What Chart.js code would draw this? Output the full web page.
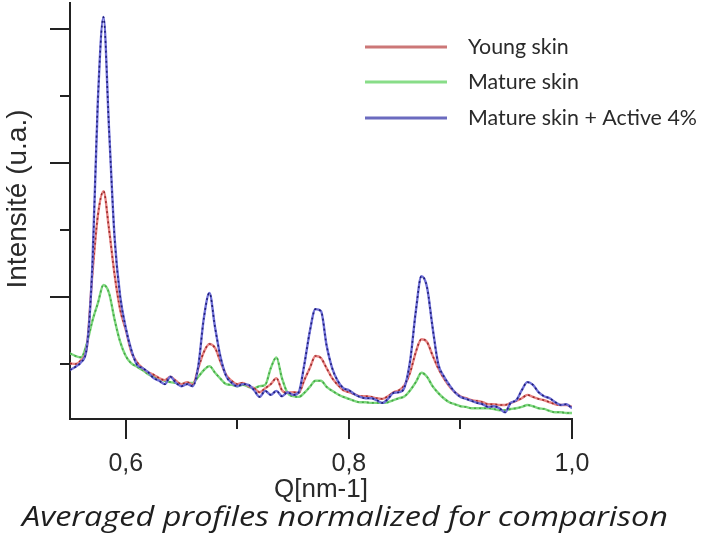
<!DOCTYPE html>
<html>
<head>
<meta charset="utf-8">
<script src="https://cdn.jsdelivr.net/npm/chart.js@4"></script>
<style>
  html, body { margin: 0; padding: 0; background: #fff; }
  canvas { display: block; }
</style>
</head>
<body>
<canvas id="chart" width="709" height="536"></canvas>
<script>
// Q values (nm-1), one reading every 0.005
const qValues = [
  0.550, 0.555, 0.560, 0.565, 0.570, 0.575, 0.580, 0.585, 0.590, 0.595,
  0.600, 0.605, 0.610, 0.615, 0.620, 0.625, 0.630, 0.635, 0.640, 0.645,
  0.650, 0.655, 0.660, 0.665, 0.670, 0.675, 0.680, 0.685, 0.690, 0.695,
  0.700, 0.705, 0.710, 0.715, 0.720, 0.725, 0.730, 0.735, 0.740, 0.745,
  0.750, 0.755, 0.760, 0.765, 0.770, 0.775, 0.780, 0.785, 0.790, 0.795,
  0.800, 0.805, 0.810, 0.815, 0.820, 0.825, 0.830, 0.835, 0.840, 0.845,
  0.850, 0.855, 0.860, 0.865, 0.870, 0.875, 0.880, 0.885, 0.890, 0.895,
  0.900, 0.905, 0.910, 0.915, 0.920, 0.925, 0.930, 0.935, 0.940, 0.945,
  0.950, 0.955, 0.960, 0.965, 0.970, 0.975, 0.980, 0.985, 0.990, 0.995,
  1.000
];

const youngSkin = [
  1.01, 1.00, 1.06, 1.24, 2.33, 3.22, 3.58, 3.01, 2.33, 1.81,
  1.51, 1.18, 1.03, 0.94, 0.88, 0.84, 0.79, 0.76, 0.81, 0.75,
  0.70, 0.73, 0.69, 0.94, 1.18, 1.30, 1.24, 1.03, 0.84, 0.75,
  0.70, 0.72, 0.67, 0.64, 0.58, 0.64, 0.70, 0.79, 0.61, 0.57,
  0.58, 0.57, 0.76, 0.94, 1.12, 1.09, 0.94, 0.79, 0.69, 0.61,
  0.58, 0.55, 0.52, 0.52, 0.51, 0.49, 0.48, 0.52, 0.58, 0.61,
  0.69, 0.88, 1.18, 1.37, 1.33, 1.13, 0.94, 0.79, 0.67, 0.58,
  0.52, 0.49, 0.46, 0.45, 0.43, 0.40, 0.40, 0.39, 0.39, 0.42,
  0.45, 0.49, 0.54, 0.51, 0.48, 0.46, 0.43, 0.40, 0.39, 0.39,
  0.36
];

const matureSkin = [
  1.16, 1.12, 1.10, 1.30, 1.64, 1.91, 2.18, 2.06, 1.66, 1.33,
  1.12, 1.01, 0.96, 0.91, 0.85, 0.81, 0.78, 0.75, 0.73, 0.72,
  0.70, 0.72, 0.72, 0.81, 0.91, 0.97, 0.87, 0.78, 0.70, 0.69,
  0.67, 0.69, 0.66, 0.64, 0.67, 0.69, 0.94, 1.10, 0.79, 0.57,
  0.52, 0.51, 0.57, 0.66, 0.75, 0.75, 0.66, 0.60, 0.55, 0.51,
  0.48, 0.45, 0.43, 0.43, 0.42, 0.42, 0.42, 0.43, 0.46, 0.49,
  0.52, 0.61, 0.73, 0.87, 0.81, 0.67, 0.57, 0.49, 0.43, 0.40,
  0.37, 0.36, 0.34, 0.34, 0.34, 0.34, 0.33, 0.31, 0.31, 0.33,
  0.34, 0.36, 0.39, 0.37, 0.34, 0.33, 0.30, 0.28, 0.28, 0.27,
  0.27
];

const matureActive = [
  0.91, 0.96, 1.03, 1.24, 2.45, 4.94, 6.18, 4.51, 2.88, 2.01,
  1.54, 1.21, 0.99, 0.94, 0.88, 0.79, 0.75, 0.70, 0.81, 0.72,
  0.67, 0.70, 0.67, 0.97, 1.69, 2.06, 1.55, 1.10, 0.82, 0.72,
  0.67, 0.70, 0.69, 0.61, 0.51, 0.60, 0.54, 0.60, 0.52, 0.58,
  0.54, 0.58, 0.99, 1.49, 1.82, 1.79, 1.28, 0.94, 0.75, 0.64,
  0.61, 0.55, 0.51, 0.49, 0.49, 0.46, 0.42, 0.48, 0.57, 0.58,
  0.66, 1.06, 1.79, 2.31, 2.15, 1.55, 1.01, 0.82, 0.69, 0.58,
  0.51, 0.48, 0.45, 0.42, 0.40, 0.36, 0.37, 0.34, 0.28, 0.42,
  0.46, 0.61, 0.73, 0.69, 0.58, 0.52, 0.49, 0.43, 0.39, 0.40,
  0.34
];

const seriesNames = ['Young skin', 'Mature skin', 'Mature skin + Active 4%'];
const xTicks = [0.6, 0.7, 0.8, 0.9, 1.0];
const xTickLabels = ['0,6', '', '0,8', '', '1,0'];
const yTicks = [1, 2, 3, 4, 5, 6];
const yTitle = 'Intensité (u.a.)';
const xTitle = 'Q[nm-1]';
const caption = 'Averaged profiles normalized for comparison';

const canvas = document.getElementById('chart').getContext('2d');
const axisColor = '#222';
const textColor = '#2a2a2a';

// light line + dark dashes on top, like the original export
const traceSets = (label, data, light, dark) => [
  { label, data, borderColor: dark, borderWidth: 1.6, borderDash: [2, 3], pointRadius: 0, cubicInterpolationMode: 'monotone' },
  { label, data, borderColor: light, borderWidth: 2.4, pointRadius: 0, cubicInterpolationMode: 'monotone' }
];

const legendColors = ['#cc7777', '#88dd88', '#6b6bbf'];

const decor = {
  id: 'decor',
  afterDraw(chart) {
    const { ctx, chartArea, scales: { x, y } } = chart;
    ctx.save();

    // tick marks, long on the major ones
    ctx.strokeStyle = axisColor;
    ctx.lineWidth = 2;
    yTicks.forEach((v) => {
      const py = Math.round(y.getPixelForValue(v));
      const len = v % 2 === 0 ? 20 : 10;
      ctx.beginPath();
      ctx.moveTo(chartArea.left - len, py);
      ctx.lineTo(chartArea.left, py);
      ctx.stroke();
    });
    xTicks.forEach((v, i) => {
      const px = Math.round(x.getPixelForValue(v));
      const len = xTickLabels[i] ? 20 : 10;
      ctx.beginPath();
      ctx.moveTo(px, chartArea.bottom);
      ctx.lineTo(px, chartArea.bottom + len);
      ctx.stroke();
    });

    // y title
    ctx.fillStyle = textColor;
    ctx.save();
    ctx.translate(18, 199);
    ctx.rotate(-Math.PI / 2);
    ctx.font = '28px "Liberation Sans", Arial, sans-serif';
    ctx.textAlign = 'center';
    ctx.textBaseline = 'middle';
    ctx.fillText(yTitle, 0, 0);
    ctx.restore();

    // legend
    ctx.font = '100px Lato, sans-serif';
    const legSize = 100 * 229 / ctx.measureText(seriesNames[2]).width;
    ctx.font = legSize.toFixed(1) + 'px Lato, sans-serif';
    ctx.textAlign = 'left';
    ctx.textBaseline = 'alphabetic';
    const rows = [47, 82, 118];
    seriesNames.forEach((name, i) => {
      ctx.strokeStyle = legendColors[i];
      ctx.lineWidth = 3;
      ctx.beginPath();
      ctx.moveTo(365, rows[i]);
      ctx.lineTo(447, rows[i]);
      ctx.stroke();
      ctx.fillStyle = textColor;
      ctx.fillText(name, 468, rows[i] + 7);
    });

    // caption, fitted to the original width
    ctx.font = 'italic 27px "Open Sans", Lato, sans-serif';
    const capW = ctx.measureText(caption).width;
    ctx.fillStyle = '#1e1e1e';
    ctx.save();
    ctx.translate(22, 526);
    ctx.scale(646 / capW, 1);
    ctx.fillText(caption, 0, 0);
    ctx.restore();

    ctx.restore();
  }
};

const chart = new Chart(canvas, {
  type: 'line',
  data: {
    labels: qValues,
    datasets: [
      ...traceSets(seriesNames[2], matureActive, '#7070d8', '#1f1f78'),
      ...traceSets(seriesNames[0], youngSkin, '#e88484', '#9a2b2b'),
      ...traceSets(seriesNames[1], matureSkin, '#7fd87f', '#45a845')
    ]
  },
  options: {
    responsive: false,
    animation: false,
    devicePixelRatio: 1,
    layout: { padding: { left: 0, right: 137, top: 3, bottom: 0 } },
    plugins: {
      legend: { display: false },
      tooltip: { enabled: false }
    },
    scales: {
      x: {
        type: 'linear',
        min: 0.55,
        max: 1.0,
        afterFit: (s) => { s.height = 117; },
        afterBuildTicks: (s) => { s.ticks = xTicks.map((v) => ({ value: v })); },
        grid: { display: false, drawTicks: false },
        border: { display: true, color: axisColor, width: 2 },
        ticks: {
          autoSkip: false,
          maxRotation: 0,
          padding: 30,
          color: textColor,
          font: { family: '"Liberation Sans", Arial, sans-serif', size: 25 },
          callback: (value, index) => xTickLabels[index]
        },
        title: {
          display: true,
          text: xTitle,
          color: textColor,
          font: { family: '"Liberation Sans", Arial, sans-serif', size: 26 },
          padding: { top: 0, bottom: 31 }
        }
      },
      y: {
        min: 0.18,
        max: 6.39,
        afterFit: (s) => { s.width = 70; },
        afterBuildTicks: (s) => { s.ticks = yTicks.map((v) => ({ value: v })); },
        grid: { display: false, drawTicks: false },
        border: { display: true, color: axisColor, width: 2 },
        ticks: { display: false }
      }
    }
  },
  plugins: [decor]
});
</script>
</body>
</html>
